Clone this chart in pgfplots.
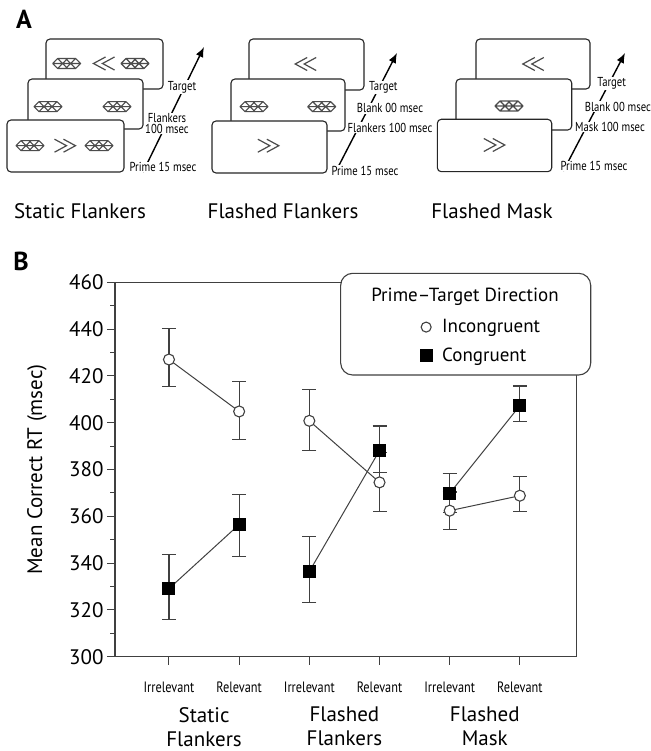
\documentclass[border=0pt]{standalone}
\usepackage{pgfplots}
\pgfplotsset{compat=1.18}
\usepackage{fontspec}
\setmainfont{PT Sans}
\usepackage{graphicx}
\usetikzlibrary{arrows.meta}
\newcommand{\cond}[1]{\scalebox{0.82}[1]{#1}}
\definecolor{ln}{gray}{0.25}
\tikzset{
  mask/.pic={\draw[black!70,line width=1.1pt, line join=round]
    (-14pt,0pt)--(-9pt,-5pt)--(9pt,-5pt)--(14pt,0pt)--(9pt,5pt)--(-9pt,5pt)--cycle
    (-14pt,0pt)--(14pt,0pt)
    (-9pt,-5pt)--(1pt,5pt) (-9pt,5pt)--(1pt,-5pt)
    (-1pt,-5pt)--(9pt,5pt) (-1pt,5pt)--(9pt,-5pt);},
  rchev/.pic={\draw[black!70,line width=1.2pt]
    (-10.5pt,-6.5pt)--(1.5pt,0pt)--(-10.5pt,6.5pt)
    (-1.5pt,-6.5pt)--(10.5pt,0pt)--(-1.5pt,6.5pt);},
  lchev/.pic={\draw[black!70,line width=1.2pt]
    (10.5pt,-6.5pt)--(-1.5pt,0pt)--(10.5pt,6.5pt)
    (1.5pt,-6.5pt)--(-10.5pt,0pt)--(1.5pt,6.5pt);},
  card/.style={rounded corners=4pt, line width=1.1pt, draw=black!85, fill=white},
  lab/.style={fill=white, inner sep=0.6pt, font=\fontsize{13}{13}\selectfont},
  arr/.style={line width=1.4pt, -{Latex[length=10pt,width=8pt]}}
}
\pgfplotsset{
  ebar/.style={error bars/y dir=both, error bars/y explicit,
    error bars/error bar style={line width=1.1pt, ln},
    error bars/error mark options={rotate=90, mark size=7pt, line width=1.1pt, ln}},
  inc/.style={color=ln, line width=1pt, mark=*, mark size=5.5pt,
    mark options={fill=white, draw=ln, line width=1.1pt, solid}, ebar},
  con/.style={color=ln, line width=1pt, mark=square*, mark size=6pt,
    mark options={fill=black, draw=black, solid}, ebar}
}
\begin{document}
\begin{tikzpicture}
\useasboundingbox (0pt,0pt) rectangle (650pt,-751pt);
\begin{scope}[x=1pt,y=-1pt]
  % panel letters
  \node[font=\fontsize{26}{26}\selectfont\bfseries] at (24,19) {A};
  \node[font=\fontsize{26}{26}\selectfont\bfseries] at (21,261) {B};
  % ---- group 1: static flankers
  \draw[card] (46,39) rectangle (163,89);
  \pic at (66.7,63.5) {mask}; \pic at (104,63.5) {lchev}; \pic at (135,63.5) {mask};
  \draw[card] (28,79) rectangle (143,129);
  \pic at (48,106.7) {mask}; \pic at (117,106.7) {mask};
  \draw[card] (7,120) rectangle (124,172);
  \pic at (30,145.7) {mask}; \pic at (65,145.7) {rchev}; \pic at (99,145.7) {mask};
  \draw[arr] (143,172) -- (204,47);
  \node[lab] at (182,87) {\cond{Target}};
  \node[lab, align=center, font=\fontsize{13}{11.5}\selectfont] at (167,123.5) {\cond{Flankers}\\\cond{100 msec}};
  \node[lab] at (163,167) {\cond{Prime 15 msec}};
  \node[font=\fontsize{21}{21}\selectfont] at (80,211) {Static Flankers};
  % ---- group 2: flashed flankers
  \draw[card] (249,39) rectangle (364,90);
  \pic at (305.7,64) {lchev};
  \draw[card] (231,79) rectangle (345,131);
  \pic at (254,106.7) {mask}; \pic at (321.7,106.7) {mask};
  \draw[card] (212,121) rectangle (327,173);
  \pic at (268.3,145.7) {rchev};
  \draw[arr] (335,173) -- (397,53);
  \node[lab] at (383.3,87.3) {\cond{Target}};
  \node[lab] at (390,108.3) {\cond{Blank 00 msec}};
  \node[lab] at (390,127.7) {\cond{Flankers 100 msec}};
  \node[lab] at (365,170.7) {\cond{Prime 15 msec}};
  \node[font=\fontsize{21}{21}\selectfont] at (283,211) {Flashed Flankers};
  % ---- group 3: flashed mask
  \draw[card] (476,39) rectangle (590,89);
  \pic at (533.3,64) {lchev};
  \draw[card] (456,79) rectangle (571.7,130);
  \pic at (509,106) {mask};
  \draw[card] (437.3,119.3) rectangle (551.7,171.7);
  \pic at (494.3,145) {rchev};
  \draw[arr] (563.3,171) -- (625,53);
  \node[lab] at (611.7,83.3) {\cond{Target}};
  \node[lab, anchor=west] at (584,106.7) {\cond{Blank 00 msec}};
  \node[lab] at (610,127) {\cond{Mask 100 msec}};
  \node[lab] at (594,166) {\cond{Prime 15 msec}};
  \node[font=\fontsize{21}{21}\selectfont] at (492,211) {Flashed Mask};
\end{scope}
\begin{axis}[
  at={(115pt,-656.7pt)}, anchor=south west,
  scale only axis, width=461.7pt, height=374.4pt,
  xmin=0.231, xmax=6.81, ymin=300, ymax=460,
  xtick={1,2,3,4,5,6},
  xticklabels={\cond{Irrelevant},\cond{Relevant},\cond{Irrelevant},\cond{Relevant},\cond{Irrelevant},\cond{Relevant}},
  ytick={300,320,...,460},
  minor y tick num=1,
  tick pos=left, tick align=outside,
  major tick length=8pt, minor tick length=5pt,
  every tick/.style={ln, line width=1pt},
  axis line style={ln, line width=1.1pt},
  yticklabel style={font=\fontsize{21}{21}\selectfont},
  /pgf/number format/assume math mode=true,
  xticklabel style={font=\fontsize{15}{15}\selectfont, yshift=-14pt},
  ylabel={Mean Correct RT (msec)},
  every axis y label/.style={at={(axis description cs:0,0.5)}, xshift=-78pt, rotate=90, anchor=center, font=\fontsize{21}{21}\selectfont},
  clip=false,
  legend style={at={(rel axis cs:0.6605,0.906)}, anchor=north west, draw=none, fill=none,
    font=\fontsize{19}{19}\selectfont, row sep=9pt, inner sep=0pt},
  legend cell align=left,
]
\draw[rounded corners=12pt, line width=1.1pt, ln, fill=white]
  (rel axis cs:0.4888,1.024) rectangle (rel axis cs:1.0303,0.7524);
\node[font=\fontsize{19}{19}\selectfont] at (rel axis cs:0.758,0.96) {Prime–Target Direction};
% Incongruent
\addplot[forget plot, inc] coordinates {(1,427.0) += (0,13.2) -= (0,11.4) (2,404.8) += (0,12.9) -= (0,12.1)};
\addplot[forget plot, inc] coordinates {(3,400.8) += (0,13.4) -= (0,12.6) (4,374.5) += (0,12.6) -= (0,12.6)};
\addplot[forget plot, inc] coordinates {(5,362.4) += (0,8.0) -= (0,8.0) (6,368.8) += (0,8.1) -= (0,6.9)};
% Congruent
\addplot[forget plot, con] coordinates {(1,329.1) += (0,14.4) -= (0,13.3) (2,356.5) += (0,12.8) -= (0,13.6)};
\addplot[forget plot, con] coordinates {(3,336.4) += (0,14.8) -= (0,13.4) (4,388.1) += (0,10.5) -= (0,9.3)};
\addplot[forget plot, con] coordinates {(5,369.8) += (0,8.6) -= (0,8.0) (6,407.3) += (0,8.4) -= (0,6.9)};
\addlegendimage{only marks, mark=*, mark size=5pt, mark options={fill=white, draw=ln, line width=1.1pt}}
\addlegendentry{\hspace{8pt}Incongruent}
\addlegendimage{only marks, mark=square*, mark size=6pt, mark options={fill=black, draw=black}}
\addlegendentry{\hspace{8pt}Congruent}
\node[align=center, font=\fontsize{21}{24}\selectfont, yshift=-70pt] at (axis cs:1.5,300) {Static\\Flankers};
\node[align=center, font=\fontsize{21}{24}\selectfont, yshift=-70pt] at (axis cs:3.5,300) {Flashed\\Flankers};
\node[align=center, font=\fontsize{21}{24}\selectfont, yshift=-70pt] at (axis cs:5.5,300) {Flashed\\Mask};
\end{axis}
\end{tikzpicture}
\end{document}
